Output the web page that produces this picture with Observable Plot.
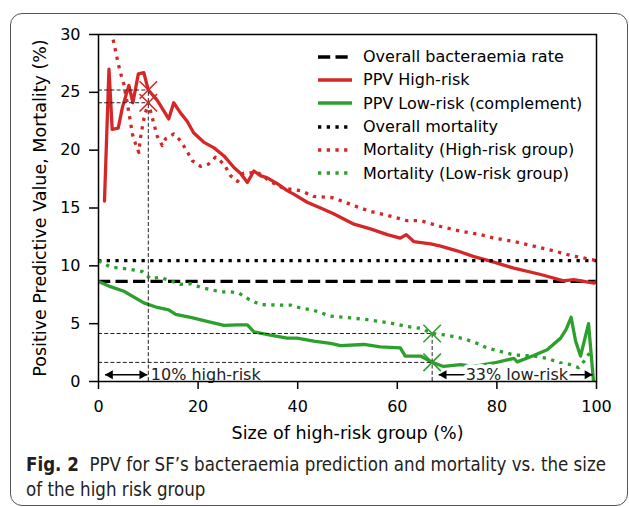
<!DOCTYPE html>
<html><head><meta charset="utf-8">
<script src="https://cdn.jsdelivr.net/npm/d3@7"></script>
<script src="https://cdn.jsdelivr.net/npm/@observablehq/plot@0.6"></script>
<style>
body{margin:0;background:#fff;}
#wrap{position:relative;width:629px;height:507px;overflow:hidden;font-family:"DejaVu Sans";}
#box{position:absolute;left:10px;top:13px;width:618px;height:493px;border:1.3px solid #555;border-radius:12px;box-sizing:border-box;}
#chart{position:absolute;left:0;top:0;}
#legend{position:absolute;left:317px;top:45px;font-size:16px;color:#000;}
.row{height:23.3px;display:flex;align-items:center;white-space:nowrap;}
.row svg{margin-right:10px;}
#cap{position:absolute;left:26px;top:452px;font-family:"Liberation Sans Narrow","DejaVu Sans Condensed","DejaVu Sans";font-stretch:condensed;font-size:20px;line-height:25px;color:#231f20;white-space:nowrap;transform-origin:0 0;}
#cap .l{display:inline-block;}
#chart g[aria-label="x-axis label"] text, #chart g[aria-label="y-axis label"] text,
#chart g[aria-label="x-axis label"], #chart g[aria-label="y-axis label"]{font-size:17.5px;}
</style></head>
<body><div id="wrap"><div id="box"></div><div id="chart"></div><div id="legend"></div>
<div id="cap"><span class="l" id="cap1"><b>Fig. 2</b>&nbsp; PPV for SF’s bacteraemia prediction and mortality vs. the size</span><br><span class="l">of the high risk group</span></div></div>
<script>
const overallBact = 8.65;
const overallMort = 10.45;

const ppvHighX = [1.2,2.1,2.75,3.96,4.8,6.1,6.9,8.0,9.1,10.0,11.8,14.1,15.1,16.5,17.8,19.1,21.1,23.2,25.2,27.2,28.5,29.9,31.2,32.5,33.9,35.9,37.9,39.2,41.9,44.6,47.2,51.3,54.6,58.0,60.6,61.8,63.3,66.7,68.7,72.0,75.4,78.7,83.4,88.8,93.4,95.4,99.5,100];
const ppvHighY = [15.6,27.0,21.8,21.9,23.7,25.6,24.1,26.6,26.7,25.2,24.3,22.7,24.1,23.2,22.5,21.5,20.7,20.2,19.5,18.5,18.0,17.2,18.2,17.8,17.6,17.1,16.5,16.2,15.5,15.0,14.5,13.6,13.2,12.7,12.4,12.7,12.1,11.9,11.7,11.3,10.8,10.4,9.8,9.25,8.7,8.8,8.5,8.65];

const mortHighX = [1.5,3.07,3.9,4.4,5.1,5.8,6.4,6.8,7.4,8.1,8.4,9.1,10.0,10.8,11.8,12.8,13.5,15.1,16.5,17.8,18.8,20.5,22.1,23.5,25.2,26.5,27.9,29.1,31.9,34.5,37.1,40.6,43.2,46.9,48.9,51.3,54.6,58.6,62.0,64.7,68.7,72.7,76.7,79.4,83.4,87.4,91.4,94.8,99.5,100];
const mortHighY = [32.5,29.3,27.6,26.7,25.7,24.0,22.5,21.4,20.6,19.8,21.0,22.7,24.1,22.8,21.2,20.4,21.0,21.4,20.8,19.9,19.1,18.6,18.8,19.4,18.8,17.8,17.3,18.0,18.1,17.3,16.7,16.5,16.0,15.9,15.6,15.2,14.7,14.3,13.9,13.9,13.4,13.0,12.7,12.4,12.1,11.7,11.3,10.9,10.5,10.45];

const ppvLowX = [0,2.4,5.1,9.1,11.8,14.1,15.5,18.5,21.8,25.2,27.9,29.9,31.2,34.5,37.9,39.9,43.2,46.6,48.6,53.3,56.6,60.6,61.6,64.7,67.0,69.3,72.7,75.4,79.4,83.4,84.1,87.4,90.1,92.8,93.9,94.9,95.8,96.8,98.4,99.4];
const ppvLowY = [8.65,8.2,7.8,6.8,6.4,6.2,5.8,5.55,5.2,4.85,4.9,4.9,4.3,4.0,3.75,3.75,3.5,3.3,3.1,3.2,3.0,2.9,2.2,2.2,1.65,1.3,1.45,1.3,1.6,2.0,1.7,2.25,2.75,3.75,4.5,5.55,3.5,2.2,5.0,0];

const mortLowX = [0,2.4,6.4,8.8,10.4,12.4,14.5,16.5,18.5,20.5,22.5,24.5,26.5,28.2,30.2,32.5,36.5,38.6,40.6,42.9,46.6,50.6,54.0,58.6,62.0,64.7,67.0,70.0,73.4,76.0,78.0,80.7,83.4,87.4,90.1,92.8,94.8,96.4,97.5,98.8];
const mortLowY = [10.45,9.9,9.7,9.5,8.9,9.0,8.7,8.4,8.45,8.15,7.95,7.75,7.75,7.65,7.1,6.65,6.6,6.6,6.35,6.2,5.65,5.5,5.35,5.05,4.75,4.6,4.15,4.0,3.7,3.3,2.9,2.6,2.3,2.2,2.0,1.6,1.45,1.2,1.75,2.6];

// cut-off markers
const cutX = [10, 10, 67, 67];
const cutY = [25.2, 24.1, 4.15, 1.65];
const cutGroup = ["high", "high", "low", "low"];

// annotation arrows and labels
const arrowX1 = [1.3, 68.3];
const arrowX2 = [9.8, 99.2];
const arrowY = 0.58;
const annoText = ["10% high-risk", "33% low-risk"];
const annoX = [10.5, 84.0];

const xTicks = [0, 20, 40, 60, 80, 100];
const yTicks = [0, 5, 10, 15, 20, 25, 30];

const RED = "#d62728", GREEN = "#2ca02c";
const LW = 3.3;
const DOT = "3.3,5.4";
const DASH = "12.2,5.3";

const toRows = (xs, ys) => xs.map((x, i) => ({x, y: ys[i]}));
const ppvHigh = toRows(ppvHighX, ppvHighY);
const mortHigh = toRows(mortHighX, mortHighY);
const ppvLow = toRows(ppvLowX, ppvLowY);
const mortLow = toRows(mortLowX, mortLowY);
const cuts = cutX.map((x, i) => ({x, y: cutY[i], g: cutGroup[i]}));
const hGuides = cuts.map(d => ({x1: 0, x2: d.x, y: d.y}));
const vGuides = [{x: cutX[0], y1: 0, y2: cutY[0]}, {x: cutX[2], y1: 0, y2: cutY[2]}];
const arrows = arrowX1.map((x1, i) => ({x1, x2: arrowX2[i], y: arrowY}));
const annos = annoText.map((t, i) => ({t, x: annoX[i], y: arrowY}));

const chart = Plot.plot({
  width: 629, height: 445,
  marginLeft: 98, marginRight: 33, marginTop: 34, marginBottom: 64,
  style: {fontFamily: "DejaVu Sans", fontSize: "16px", color: "#000", background: "transparent"},
  x: {domain: [0, 100]},
  y: {domain: [0, 30]},
  marks: [
    Plot.ruleY([overallBact], {stroke: "black", strokeWidth: LW, strokeDasharray: DASH, strokeLinecap: "butt"}),
    Plot.line(ppvHigh, {x: "x", y: "y", stroke: RED, strokeWidth: LW, clip: true}),
    Plot.line(ppvLow, {x: "x", y: "y", stroke: GREEN, strokeWidth: LW, clip: true}),
    Plot.ruleY([overallMort], {stroke: "black", strokeWidth: LW, strokeDasharray: DOT, strokeLinecap: "butt"}),
    Plot.line(mortHigh, {x: "x", y: "y", stroke: RED, strokeWidth: LW, strokeDasharray: DOT, strokeLinecap: "butt", clip: true}),
    Plot.line(mortLow, {x: "x", y: "y", stroke: GREEN, strokeWidth: LW, strokeDasharray: DOT, strokeLinecap: "butt", clip: true}),
    Plot.ruleY(hGuides, {x1: "x1", x2: "x2", y: "y", stroke: "#222", strokeWidth: 1, strokeDasharray: "4,2.2"}),
    Plot.ruleX(vGuides, {x: "x", y1: "y1", y2: "y2", stroke: "#222", strokeWidth: 1, strokeDasharray: "4,2.2"}),
    Plot.dot(cuts, {x: "x", y: "y", symbol: "times", r: 8, strokeWidth: 1.6, stroke: d => d.g === "high" ? RED : GREEN}),
    Plot.link(arrows, {x1: "x1", x2: "x2", y1: "y", y2: "y", stroke: "black", strokeWidth: 1.6}),
    Plot.dot(arrows, {x: "x2", y: "y", symbol: "triangle", rotate: 90, r: 3.4, dx: -5.2, fill: "black", stroke: null}),
    Plot.dot(arrows, {x: "x1", y: "y", symbol: "triangle", rotate: -90, r: 3.4, dx: 5.2, fill: "black", stroke: null}),
    Plot.text(annos.slice(0, 1), {x: "x", y: "y", text: "t", textAnchor: "start", fontSize: 16, fill: "#222"}),
    Plot.text(annos.slice(1), {x: "x", y: "y", text: "t", textAnchor: "middle", fontSize: 16, fill: "#222", stroke: "white", strokeWidth: 8, strokeLinejoin: "round"}),
    Plot.frame({stroke: "black", strokeWidth: 1.5}),
    Plot.axisX({ticks: xTicks, tickSize: 8, tickPadding: 11, strokeWidth: 1.5, fontSize: 16,
      label: "Size of high-risk group (%)", labelAnchor: "center", labelArrow: "none", labelOffset: 57}),
    Plot.axisY({ticks: yTicks, tickSize: 9, tickPadding: 9, strokeWidth: 1.5, fontSize: 16,
      label: "Positive Predictive Value, Mortality (%)", labelAnchor: "center", labelArrow: "none", labelOffset: 65})
  ]
});
document.getElementById("chart").appendChild(chart);

// legend
const legendItems = [
  {label: "Overall bacteraemia rate", color: "black", dash: DASH},
  {label: "PPV High-risk", color: RED, dash: null},
  {label: "PPV Low-risk (complement)", color: GREEN, dash: null},
  {label: "Overall mortality", color: "black", dash: DOT},
  {label: "Mortality (High-risk group)", color: RED, dash: DOT},
  {label: "Mortality (Low-risk group)", color: GREEN, dash: DOT}
];
const leg = d3.select("#legend");
for (const it of legendItems) {
  const row = leg.append("div").attr("class", "row");
  const svg = row.append("svg").attr("width", 36).attr("height", 10);
  svg.append("line").attr("x1", 1).attr("x2", 35).attr("y1", 5).attr("y2", 5)
    .attr("stroke", it.color).attr("stroke-width", LW)
    .attr("stroke-dasharray", it.dash).attr("stroke-linecap", "butt");
  row.append("span").text(it.label);
}

// fit caption line 1 to the reference width (condensed face)
const cap = document.getElementById("cap");
const w1 = document.getElementById("cap1").getBoundingClientRect().width;
if (w1 > 0) cap.style.transform = `scaleX(${580 / w1})`;
</script></body></html>
